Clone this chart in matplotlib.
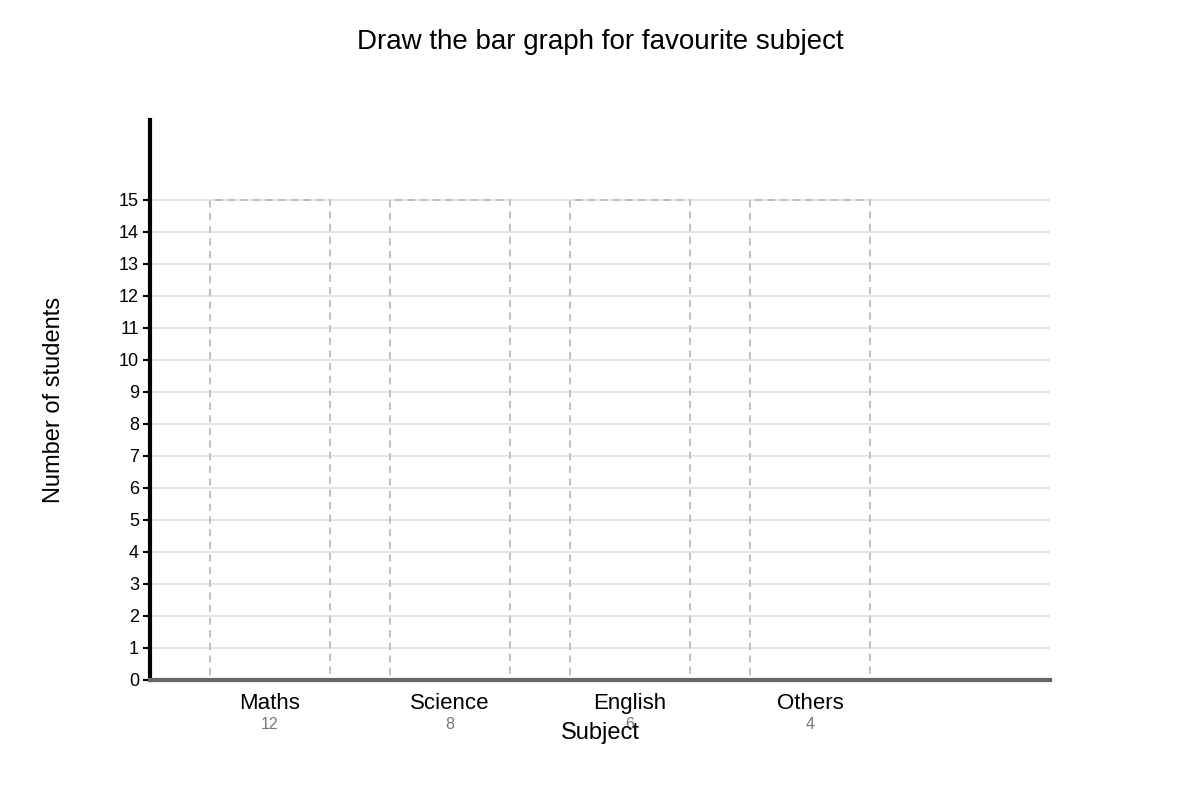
import matplotlib
matplotlib.use('Agg')
import matplotlib.pyplot as plt

subjects = ['Maths', 'Science', 'English', 'Others']
students = [12, 8, 6, 4]
bar_outline_height = 15
y_ticks = list(range(0, 16))

plt.rcParams['font.family'] = ['Liberation Sans', 'DejaVu Sans']

fig = plt.figure(figsize=(12, 8), dpi=100)
ax = fig.add_axes([0.125, 0.15, 0.75, 0.70])

x = list(range(len(subjects)))
ax.bar(x, [bar_outline_height] * len(subjects), width=0.667, fill=False,
       edgecolor='#bbbbbb', linestyle=(0, (4, 3)), linewidth=1.3, zorder=2)

ax.set_xlim(-0.667, 4.333)
ax.set_ylim(0, 17.5)
ax.set_yticks(y_ticks)
ax.set_yticklabels([str(t) for t in y_ticks], fontsize=13)
for t in y_ticks:
    ax.axhline(t, color='#e0e0e0', linewidth=1.2, zorder=1)

ax.set_xticks(x)
ax.set_xticklabels([])
ax.tick_params(axis='x', length=0)
ax.tick_params(axis='y', length=5, width=1.5, color='black', pad=3)

for i, (s, n) in enumerate(zip(subjects, students)):
    ax.text(i, -0.72, s, ha='center', va='center', fontsize=16, color='black')
    ax.text(i, -1.38, str(n), ha='center', va='center', fontsize=11.5, color='#777777')

for side in ['top', 'right']:
    ax.spines[side].set_visible(False)
ax.spines['left'].set_linewidth(3)
ax.spines['left'].set_color('black')
ax.spines['bottom'].set_linewidth(3)
ax.spines['bottom'].set_color('#666666')
ax.spines['bottom'].set_zorder(3)

fig.text(0.5, 0.084, 'Subject', ha='center', va='center', fontsize=17)
fig.text(0.045, 0.5, 'Number of students', ha='center', va='center',
         rotation=90, fontsize=17)
fig.text(0.5, 0.948, 'Draw the bar graph for favourite subject', ha='center',
         va='center', fontsize=20)

fig.savefig('out.png', dpi=100)
